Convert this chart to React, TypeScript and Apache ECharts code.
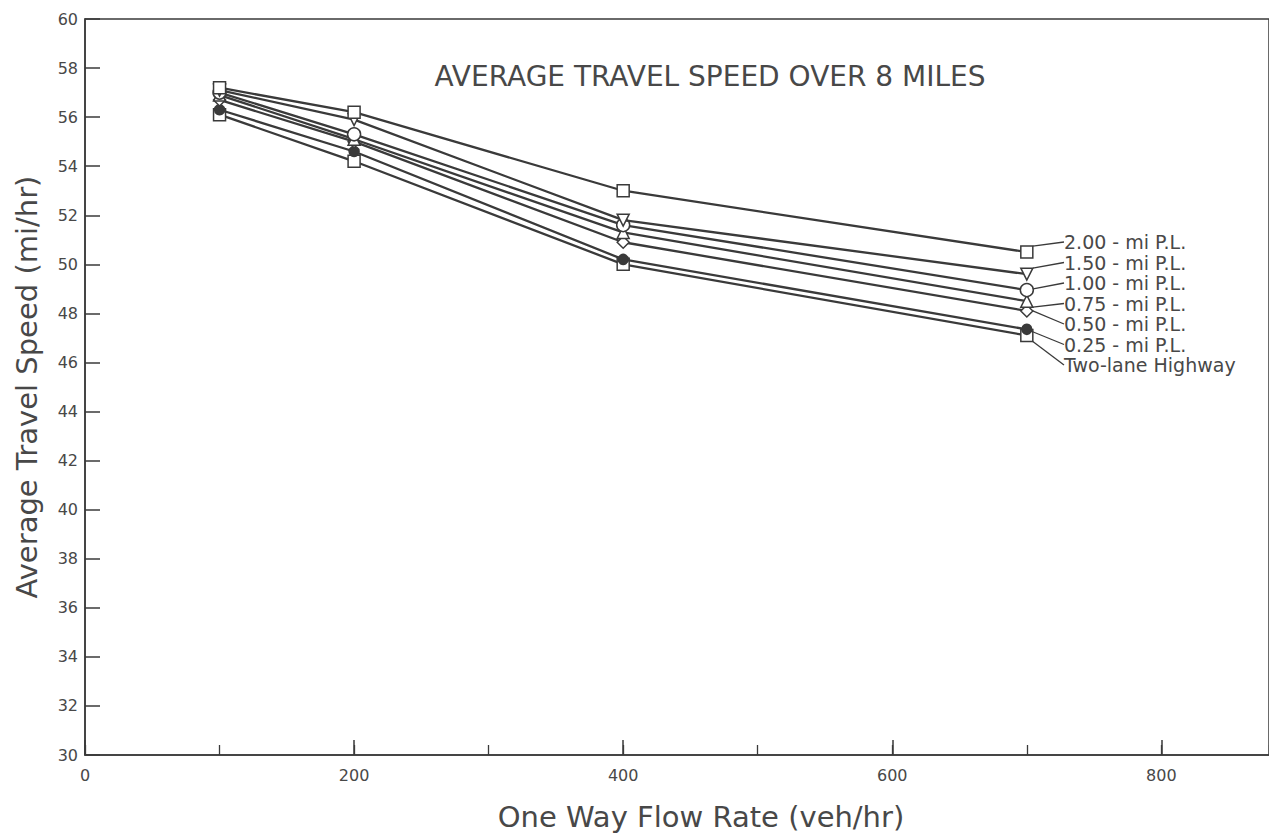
import React, { useEffect, useRef } from "react";
import * as echarts from "echarts";

const flowRates = [100, 200, 400, 700];
const seriesNames = [
  "2.00 - mi P.L.",
  "1.50 - mi P.L.",
  "1.00 - mi P.L.",
  "0.75 - mi P.L.",
  "0.50 - mi P.L.",
  "0.25 - mi P.L.",
  "Two-lane Highway",
];
const speed200 = [57.2, 56.2, 53.0, 50.5];
const speed150 = [57.1, 55.9, 51.8, 49.6];
const speed100 = [57.0, 55.3, 51.6, 48.95];
const speed075 = [56.9, 55.1, 51.3, 48.5];
const speed050 = [56.7, 55.0, 50.9, 48.1];
const speed025 = [56.3, 54.6, 50.2, 47.35];
const speedTwoLane = [56.1, 54.2, 50.0, 47.1];
const allSpeeds = [speed200, speed150, speed100, speed075, speed050, speed025, speedTwoLane];
const symbols = ["rect", "triangle", "circle", "triangle", "diamond", "circle", "rect"];
const symbolRotations = [0, 180, 0, 0, 0, 0, 0];
const filled = [false, false, false, false, false, true, false];
const yTickLabels = [30, 32, 34, 36, 38, 40, 42, 44, 46, 48, 50, 52, 54, 56, 58, 60];
const xTickLabels = [0, 200, 400, 600, 800];

const INK = "#3a3a3a";
const TEXT = "#484848";
const FONT = "'DejaVu Sans', Lato, sans-serif";
const labelYs = [242, 262.5, 283, 303.5, 324, 344.5, 365];

export default function App() {
  const ref = useRef<HTMLDivElement>(null);
  useEffect(() => {
    if (!ref.current) return;
    const chart = echarts.init(ref.current, null, { renderer: "svg" });
    const series = allSpeeds.map((vals, si) => ({
      type: "line",
      name: seriesNames[si],
      data: vals.map((v, i) => {
        const item: any = { value: [flowRates[i], v] };
        if (i === vals.length - 1) {
          item.label = {
            show: true,
            formatter: seriesNames[si],
          };
        }
        return item;
      }),
      symbol: symbols[si],
      symbolRotate: symbolRotations[si],
      symbolSize: si === 2 ? 13 : si === 5 ? 10 : 12,
      showAllSymbol: true,
      lineStyle: { color: INK, width: 2.3 },
      itemStyle: {
        color: filled[si] ? INK : "#fff",
        borderColor: INK,
        borderWidth: 1.5,
      },
      label: {
        show: false,
        color: TEXT,
        fontFamily: FONT,
        fontSize: 19,
        lineHeight: 19,
      },
      labelLine: { show: true, lineStyle: { color: INK, width: 1.3 } },
      labelLayout: () => ({
        x: 1064,
        y: labelYs[si],
        align: "left",
        verticalAlign: "middle",
      }),
      z: 10 - si,
    }));

    chart.setOption({
      animation: false,
      backgroundColor: "#fff",
      grid: {
        left: 85,
        top: 19,
        right: -4,
        bottom: 84,
        show: true,
        borderColor: INK,
        borderWidth: 1.5,
      },
      graphic: [
        {
          type: "text",
          x: 710,
          y: 76,
          style: {
            text: "AVERAGE TRAVEL SPEED OVER 8 MILES",
            fill: TEXT,
            font: `28px ${FONT}`,
            textAlign: "center",
            textVerticalAlign: "middle",
          },
        },
      ],
      xAxis: [
        {
          type: "value",
          min: 0,
          max: 880,
          interval: 200,
          name: "One Way Flow Rate (veh/hr)",
          nameLocation: "middle",
          nameGap: 47,
          nameTextStyle: {
            color: TEXT,
            fontFamily: FONT,
            fontSize: 29,
            padding: [0, 0, 0, 48],
          },
          axisLine: { show: true, lineStyle: { color: INK, width: 1.5 } },
          axisTick: { show: true, inside: true, length: 15, lineStyle: { color: INK, width: 1.5 } },
          axisLabel: {
            color: TEXT,
            fontFamily: FONT,
            fontSize: 16,
            margin: 12,
            showMaxLabel: false,
            formatter: (v: number) => (xTickLabels.includes(v) ? String(v) : ""),
          },
          splitLine: { show: false },
        },
        {
          type: "value",
          min: 0,
          max: 880,
          interval: 100,
          position: "bottom",
          axisLine: { show: false },
          axisTick: { show: true, inside: true, length: 10, lineStyle: { color: INK, width: 1.3 } },
          axisLabel: { show: false },
          splitLine: { show: false },
        },
      ],
      yAxis: {
        type: "value",
        min: 30,
        max: 60,
        interval: 2,
        name: "Average Travel Speed (mi/hr)",
        nameLocation: "middle",
        nameGap: 44,
        nameTextStyle: { color: TEXT, fontFamily: FONT, fontSize: 29 },
        axisLine: { show: true, lineStyle: { color: INK, width: 1.5 } },
        axisTick: { show: true, inside: true, length: 15, lineStyle: { color: INK, width: 1.5 } },
        axisLabel: {
          color: TEXT,
          fontFamily: FONT,
          fontSize: 16,
          margin: 7,
          formatter: (v: number) => (yTickLabels.includes(v) ? String(v) : ""),
        },
        splitLine: { show: false },
      },
      series,
    });
    return () => chart.dispose();
  }, []);
  return (
    <div
      ref={ref}
      style={{ position: "fixed", left: 0, top: 0, width: 1269, height: 839 }}
    />
  );
}
